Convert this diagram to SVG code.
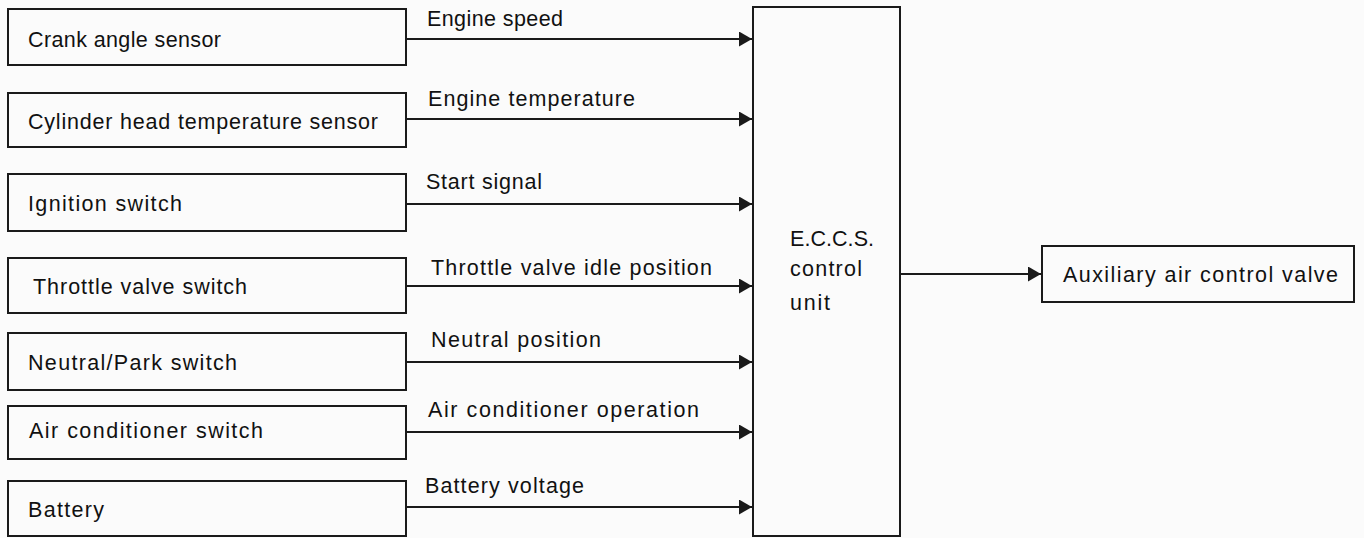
<svg xmlns="http://www.w3.org/2000/svg" width="1364" height="538" viewBox="0 0 1364 538">
<defs>
<style>
.box{fill:none;stroke:#1a1a1a;stroke-width:2}
.t{font-family:"Liberation Sans",Arial,sans-serif;font-size:21.5px;fill:#111}
.c{stroke:#1a1a1a;stroke-width:2.2;fill:none;marker-end:url(#ah)}
</style>
<marker id="ah" markerUnits="userSpaceOnUse" markerWidth="14" markerHeight="15" refX="13" refY="7.5" orient="auto">
<path d="M0,0 L13,7.5 L0,15 z" fill="#1a1a1a"/>
</marker>
</defs>
<rect width="1364" height="538" fill="#fbfbfb"/>
<g id="crank"><rect class="box" x="8" y="9" width="398" height="56"/><text class="t" x="28" y="47" textLength="193">Crank angle sensor</text></g>
<g id="cylinder"><rect class="box" x="8" y="93" width="398" height="54"/><text class="t" x="28" y="129" textLength="350">Cylinder head temperature sensor</text></g>
<g id="ignition"><rect class="box" x="8" y="174" width="398" height="57"/><text class="t" x="28" y="211" textLength="154">Ignition switch</text></g>
<g id="throttle"><rect class="box" x="8" y="258" width="398" height="55"/><text class="t" x="33" y="294" textLength="214">Throttle valve switch</text></g>
<g id="neutral"><rect class="box" x="8" y="333" width="398" height="57"/><text class="t" x="28" y="370" textLength="209">Neutral/Park switch</text></g>
<g id="aircon"><rect class="box" x="8" y="406" width="398" height="53"/><text class="t" x="29" y="438" textLength="234">Air conditioner switch</text></g>
<g id="battery"><rect class="box" x="8" y="481" width="398" height="55"/><text class="t" x="28" y="517" textLength="76">Battery</text></g>
<g id="eccs"><rect class="box" x="753" y="7" width="147" height="529"/><text class="t" x="790" y="246" textLength="84">E.C.C.S.</text><text class="t" x="790" y="276" textLength="72">control</text><text class="t" x="790" y="310" textLength="40">unit</text></g>
<g id="aux"><rect class="box" x="1042" y="246" width="312" height="56"/><text class="t" x="1063" y="282" textLength="275">Auxiliary air control valve</text></g>
<g id="connectors">
<path class="c" d="M406,39 H752"/>
<path class="c" d="M406,119 H752"/>
<path class="c" d="M406,204 H752"/>
<path class="c" d="M406,286 H752"/>
<path class="c" d="M406,362 H752"/>
<path class="c" d="M406,432 H752"/>
<path class="c" d="M406,507 H752"/>
<path class="c" d="M900,274 H1041"/>
<text class="t" x="427" y="26" textLength="136">Engine speed</text>
<text class="t" x="428" y="106" textLength="207">Engine temperature</text>
<text class="t" x="426" y="189" textLength="116">Start signal</text>
<text class="t" x="431" y="275" textLength="281">Throttle valve idle position</text>
<text class="t" x="431" y="347" textLength="170">Neutral position</text>
<text class="t" x="428" y="417" textLength="271">Air conditioner operation</text>
<text class="t" x="425" y="493" textLength="159">Battery voltage</text>
</g>
</svg>
